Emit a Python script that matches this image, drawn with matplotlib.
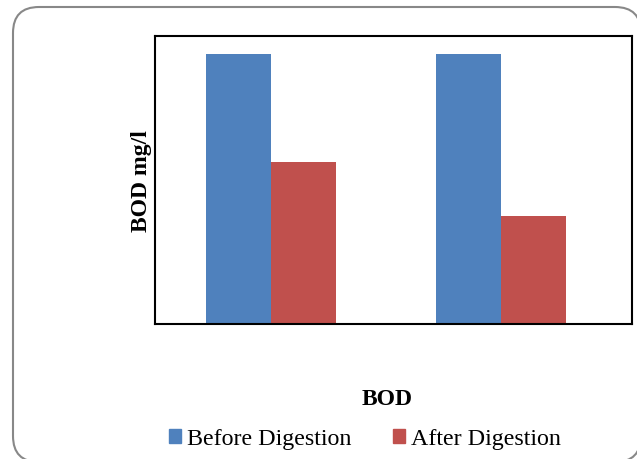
import numpy as np
from matplotlib import pyplot as plt
from matplotlib.patches import FancyBboxPatch, Patch

categories = ["Sample 1", "Sample 2"]
before = [300, 300]
after = [180, 120]

plt.rcParams['font.family'] = ['Liberation Serif', 'DejaVu Serif']

fig = plt.figure(figsize=(6.37, 4.6), dpi=100)

# rounded outer frame (inches)
box = FancyBboxPatch((0.13, -0.03), 6.28, 4.55,
                     boxstyle="round,pad=0,rounding_size=0.26",
                     transform=fig.dpi_scale_trans, facecolor="white",
                     edgecolor="#888888", linewidth=1.5, zorder=-1)
fig.patches.append(box)

ax = fig.add_axes([155/637, 1-325/460, 477/637, 288/460])
ax.set_zorder(2)
ax.patch.set_alpha(0)
x = np.arange(len(categories))
w = 0.283
ax.bar(x - w/2, before, w, color="#4F81BD", label="Before Digestion")
ax.bar(x + w/2, after, w, color="#C0504D", label="After Digestion")
ax.set_xlim(-0.504, 1.57)
ax.set_ylim(0, 320)
ax.set_xticks([])
ax.set_yticks([])
for s in ax.spines.values():
    s.set_linewidth(1.5)
    s.set_color("black")

ax.set_ylabel("BOD mg/l", fontsize=17, fontweight="bold", labelpad=2)
fig.text(387/637, 1-400/460, "BOD", fontsize=17, fontweight="bold",
         ha="center", va="center")

handles = [Patch(color="#4F81BD", label="Before Digestion"),
           Patch(color="#C0504D", label="After Digestion")]
fig.legend(handles=handles, loc="center", bbox_to_anchor=(365/637, 1-440/460),
           ncol=2, frameon=False, fontsize=17.3, handlelength=0.5, handleheight=0.5,
           handletextpad=0.25, columnspacing=1.75)

fig.savefig("out.png", dpi=100)
